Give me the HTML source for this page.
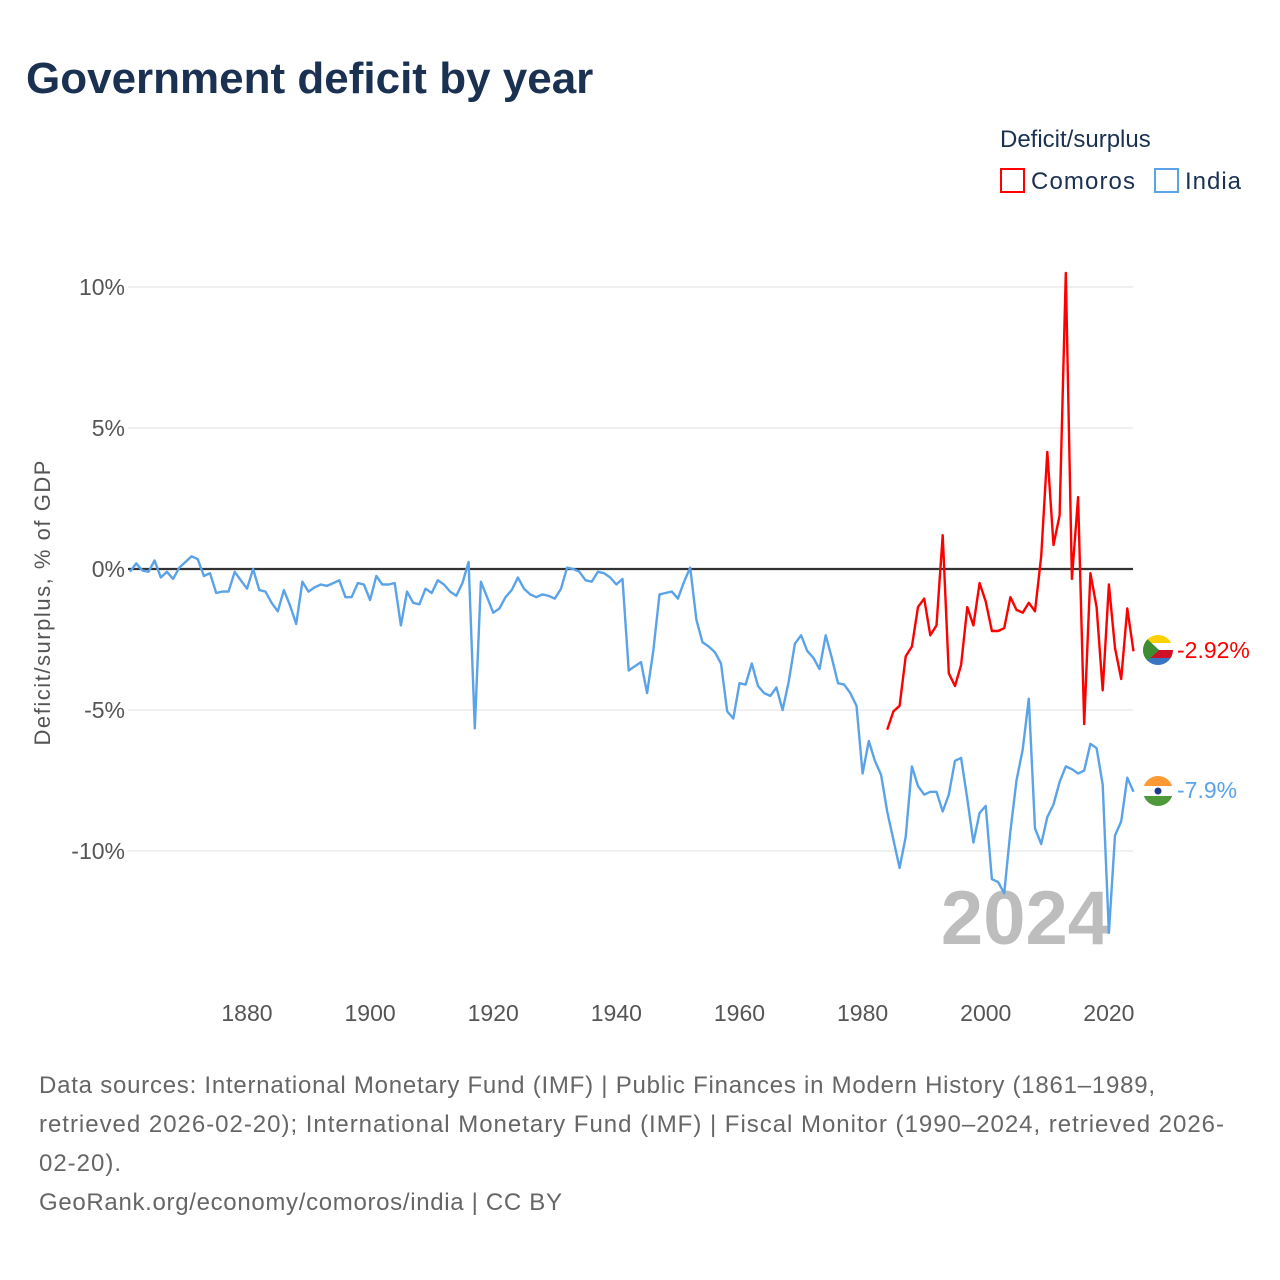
<!DOCTYPE html>
<html><head><meta charset="utf-8">
<style>
body{margin:0;background:#fff;font-family:"Liberation Sans",sans-serif;}
#wrap{position:relative;width:1280px;height:1280px;overflow:hidden;}
</style></head>
<body><div id="wrap">
<svg id="chart" width="1280" height="1280" xmlns="http://www.w3.org/2000/svg">
<text x="26" y="93" font-size="44" font-weight="bold" fill="#1b3152" font-family="Liberation Sans, sans-serif">Government deficit by year</text>
<text x="1000" y="147" font-size="24" fill="#1b3152">Deficit/surplus</text>
<g><rect x="1001" y="169" width="23" height="23" fill="none" stroke="#ff0000" stroke-width="2"/><text x="1031" y="189" font-size="24" fill="#1b3152" textLength="104">Comoros</text></g>
<g><rect x="1155" y="169" width="23" height="23" fill="none" stroke="#5aa3e8" stroke-width="2"/><text x="1185" y="189" font-size="24" fill="#1b3152" textLength="56">India</text></g>
<text transform="translate(50,603) rotate(-90)" text-anchor="middle" font-size="22" fill="#555" textLength="285">Deficit/surplus, % of GDP</text>
<g id="grid"></g><g id="xt"></g>
<text x="1110" y="944" text-anchor="end" font-size="76" font-weight="bold" fill="#bdbdbd">2024</text>
<g id="series"></g>
<g>
<clipPath id="cc"><circle cx="1158" cy="650" r="15"/></clipPath>
<g clip-path="url(#cc)"><rect x="1143" y="635" width="30" height="8" fill="#ffd100"/><rect x="1143" y="643" width="30" height="7" fill="#fff"/><rect x="1143" y="650" width="30" height="8" fill="#ce1126"/><rect x="1143" y="658" width="30" height="8" fill="#3a75c4"/><polygon points="1143,635 1159,650 1143,665" fill="#3d8e33"/></g></g>
<g>
<clipPath id="ci"><circle cx="1158" cy="791" r="15"/></clipPath>
<g clip-path="url(#ci)"><rect x="1143" y="776" width="30" height="10" fill="#ff9933"/><rect x="1143" y="786" width="30" height="10" fill="#fff"/><rect x="1143" y="796" width="30" height="11" fill="#4e9a3a"/><circle cx="1158" cy="791" r="3.5" fill="#1d3a8a"/></g></g>
<text x="1177" y="658" font-size="23" fill="#ff0000">-2.92%</text>
<text x="1177" y="798" font-size="23" fill="#5aa3e8">-7.9%</text>
<g font-size="24" fill="#666">
<text x="39" y="1093" textLength="1116">Data sources: International Monetary Fund (IMF) | Public Finances in Modern History (1861–1989,</text>
<text x="39" y="1132" textLength="1185">retrieved 2026-02-20); International Monetary Fund (IMF) | Fiscal Monitor (1990–2024, retrieved 2026-</text>
<text x="39" y="1171" textLength="82">02-20).</text>
<text x="39" y="1210" textLength="523">GeoRank.org/economy/comoros/india | CC BY</text>
</g>
</svg></div>
<script>
const yTicks=[10,5,0,-5,-10];
const xTicks=[1880,1900,1920,1940,1960,1980,2000,2020];
const indiaStart=1861;
const indiaValues=[-0.1,0.2,-0.05,-0.1,0.3,-0.3,-0.1,-0.35,0.05,0.25,0.45,0.35,-0.25,-0.15,-0.85,-0.8,-0.8,-0.1,-0.4,-0.7,
0.0,-0.75,-0.8,-1.2,-1.5,-0.75,-1.3,-1.95,-0.45,-0.8,-0.65,-0.55,-0.6,-0.5,-0.4,-1.0,-1.0,-0.5,-0.55,-1.1,
-0.25,-0.55,-0.55,-0.5,-2.0,-0.8,-1.2,-1.25,-0.7,-0.85,-0.4,-0.55,-0.8,-0.95,-0.5,0.25,-5.65,-0.45,-1.0,-1.55,
-1.4,-1.0,-0.75,-0.3,-0.7,-0.9,-1.0,-0.9,-0.95,-1.05,-0.7,0.05,0.0,-0.1,-0.4,-0.45,-0.1,-0.15,-0.3,-0.55,
-0.35,-3.6,-3.45,-3.3,-4.4,-2.9,-0.9,-0.85,-0.8,-1.05,-0.45,0.05,-1.8,-2.6,-2.75,-2.95,-3.35,-5.05,-5.3,-4.05,
-4.1,-3.35,-4.15,-4.4,-4.5,-4.2,-5.0,-4.0,-2.65,-2.35,-2.9,-3.15,-3.55,-2.35,-3.15,-4.05,-4.1,-4.4,-4.85,-7.25,
-6.1,-6.8,-7.3,-8.6,-9.6,-10.6,-9.5,-7.0,-7.7,-8.0,-7.9,-7.9,-8.6,-8.0,-6.8,-6.7,-8.15,-9.7,-8.65,-8.4,
-11.0,-11.1,-11.5,-9.3,-7.5,-6.4,-4.6,-9.2,-9.75,-8.8,-8.35,-7.55,-7.0,-7.1,-7.25,-7.15,-6.2,-6.35,-7.65,-12.9,
-9.45,-8.95,-7.4,-7.9];
const comorosStart=1984;
const comorosValues=[-5.7,-5.05,-4.85,-3.1,-2.75,-1.35,-1.05,-2.35,-2.0,1.2,-3.7,-4.15,-3.4,-1.35,-2.0,-0.5,-1.15,-2.2,-2.2,-2.1,
-1.0,-1.45,-1.55,-1.2,-1.5,0.45,4.15,0.85,1.9,10.5,-0.35,2.55,-5.5,-0.15,-1.35,-4.3,-0.55,-2.8,-3.9,-1.4,-2.92];
const NS="http://www.w3.org/2000/svg";
const X=y=>130+(y-1861)*(1133.5-130)/(2024-1861);
const Y=v=>569-v*28.2;
const grid=document.getElementById('grid');
yTicks.forEach(t=>{
 const l=document.createElementNS(NS,'line');
 
 
 l.setAttribute('x1',128);l.setAttribute('x2',1133);l.setAttribute('y1',Y(t));l.setAttribute('y2',Y(t));
 l.setAttribute('stroke',t===0?'#333':'#e6e6e6');l.setAttribute('stroke-width',t===0?2.2:1.2);
 grid.appendChild(l);
 const tx=document.createElementNS(NS,'text');
 
 
 tx.setAttribute('x',125);tx.setAttribute('y',Y(t)+8);tx.setAttribute('text-anchor','end');
 tx.setAttribute('font-size','23');tx.setAttribute('fill','#555');
 tx.textContent=t+'%';grid.appendChild(tx);
});
const xt=document.getElementById('xt');
xTicks.forEach(t=>{
 const tx=document.createElementNS(NS,'text');
 
 
 tx.setAttribute('x',X(t));tx.setAttribute('y',1021);tx.setAttribute('text-anchor','middle');
 tx.setAttribute('font-size','23');tx.setAttribute('fill','#555');
 tx.textContent=t;xt.appendChild(tx);
});
const ser=document.getElementById('series');
function line(start,vals,color,name){
 const p=document.createElementNS(NS,'polyline');
 
 
 p.setAttribute('points',vals.map((v,i)=>X(start+i).toFixed(1)+','+Y(v).toFixed(1)).join(' '));
 p.setAttribute('fill','none');p.setAttribute('stroke',color);p.setAttribute('stroke-width','2.4');
 p.setAttribute('stroke-linejoin','round');
 ser.appendChild(p);
}
line(indiaStart,indiaValues,'#5aa3e8','india-line');
line(comorosStart,comorosValues,'#ff0000','comoros-line');
</script>
</body></html>
